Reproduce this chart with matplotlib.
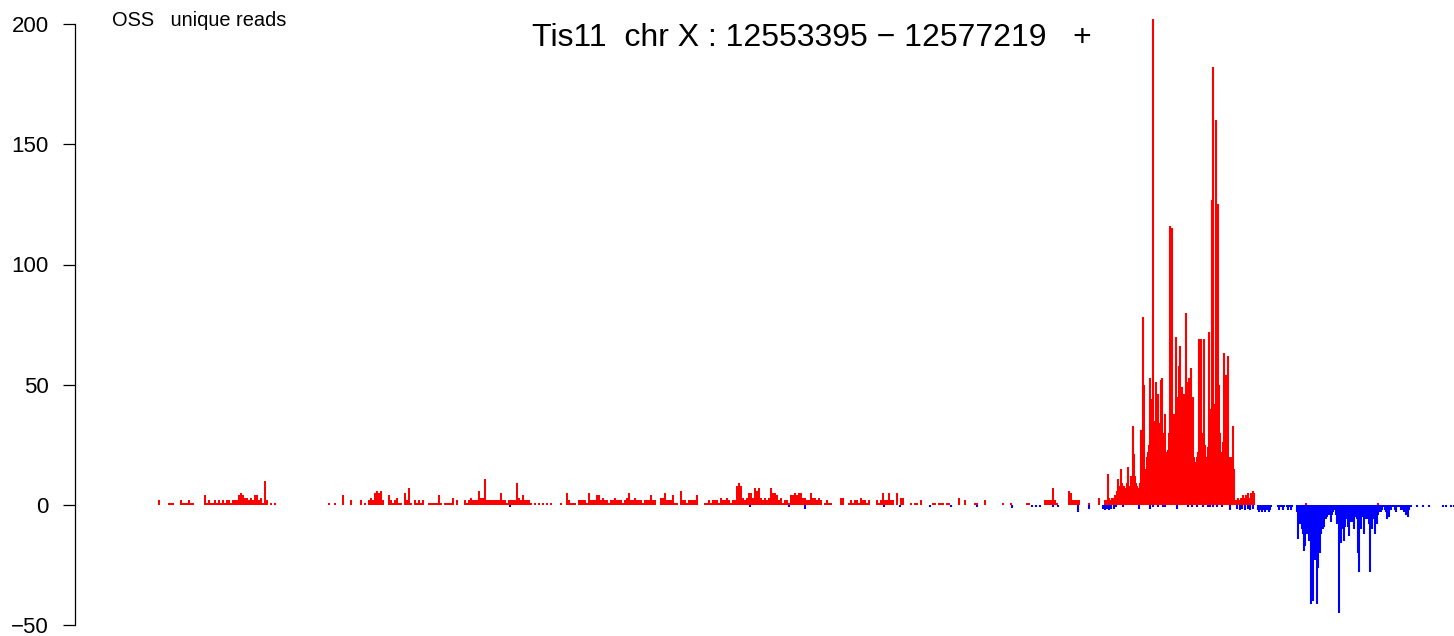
import numpy as np
import matplotlib
matplotlib.use("Agg")
import matplotlib.pyplot as plt

plt.rcParams['font.family'] = ['Liberation Sans', 'DejaVu Sans']

# ---------------- data (reads per genomic bin) ----------------
title_text = "Tis11  chr X : 12553395 \u2212 12577219   +"
track_label = "OSS   unique reads"
y_ticks = [-50, 0, 50, 100, 150, 200]

x_min, x_max = 12552442, 12578174

# plus strand, coarse bins (37.32 bp) over the low-coverage part
low_start, low_step = 12554009, 37.32
plus_low = [
    2,0,0,0,0,1,1,1,0,0, 0,2,1,1,1,2,1,1,0,0, 0,0,0,4,1,2,1,1,2,1, 2,1,2,1,2,2,1,2,2,2,
    4,5,4,3,3,2,3,2,4,4, 2,3,1,10,2,0,1,0,1,0, 0,0,0,0,0,0,0,0,0,0, 0,0,0,0,0,0,0,0,0,0,
    0,0,0,0,0,1,0,0,1,0, 0,0,4,0,0,0,2,0,0,0, 0,2,0,1,0,2,3,2,5,6, 5,6,2,0,0,4,2,1,2,3,
    1,1,0,5,2,7,1,0,2,1, 2,1,2,0,0,1,1,1,1,1, 4,1,0,1,1,1,1,3,0,2, 0,0,0,2,1,2,3,2,2,2,
    6,3,3,11,2,2,2,2,2,2, 2,5,2,2,1,2,2,2,2,9, 3,2,4,2,2,2,1,0,1,0, 1,0,1,0,1,0,1,0,0,0,
    0,1,0,0,5,2,1,1,1,0, 2,2,2,2,1,5,2,2,2,4, 4,2,3,2,2,1,2,2,3,2, 2,2,1,2,3,5,2,2,3,2,
    2,2,1,2,2,2,4,2,2,0, 0,3,3,5,2,2,2,4,1,1, 0,6,2,2,1,2,2,2,2,4, 0,0,0,1,1,2,1,2,2,2,
    1,3,2,2,3,2,1,2,2,8, 9,8,3,2,3,5,5,3,7,6, 7,3,2,3,2,3,7,5,5,4, 2,3,1,2,2,1,4,4,5,4,
    5,5,3,3,2,2,5,3,3,2, 3,2,0,1,2,1,1,0,0,0, 0,3,3,0,0,1,2,1,2,2, 1,3,2,2,1,2,0,0,0,2,
    1,2,5,2,2,5,2,2,0,5, 0,3,3,0,0,0,1,0,1,1, 0,2,0,0,0,0,0,1,1,0, 1,1,1,0,1,1,0,0,0,0,
    3,0,0,2,0,0,0,0,1,1, 0,0,0,2,0,0,0,0,0,0, 0,0,1,0,0,0,1,0,0,0, 0,0,0,0,1,1,0,0,0,0,
    0,0,0,2,2,2,2,7,2,1, 0,0,0,0,0,6,5,2,2,2, 2,0,0,0,0,1,0,0,0,0, 3,0,0,2,
]

# plus strand, fine bins (18.66 bp) over the 3' peak
peak_start, peak_step = 12571690, 18.66
plus_peak = [
    2,13,3,2,2,3,3,3,4,4,
    6,11,8,6,15,9,8,8,6,7,
    9,16,8,6,12,10,33,21,12,9,
    8,7,6,9,31,20,78,50,15,10,
    20,22,25,53,30,44,202,35,28,51,
    40,46,34,28,52,53,25,30,38,22,
    18,23,30,116,60,115,37,38,30,70,
    40,45,58,66,35,49,45,46,30,80,
    40,51,53,35,57,30,45,20,16,18,
    20,22,69,45,69,30,23,69,25,20,
    20,24,72,40,37,127,182,42,30,160,
    60,125,50,30,22,20,26,63,40,54,
    30,62,20,18,20,16,33,15,0,2,
    0,3,0,2,3,0,4,0,3,4,
    0,5,3,0,5,4,6,5,0,0,
]

# isolated plus reads downstream
plus_dot_pos = [12575412, 12576756]
plus_dot_val = [1, 1]

# minus strand, isolated reads
minus_dot_pos = [12560559, 12565038, 12565765, 12566064, 12567538, 12567837, 12568396,
                 12568788, 12569273, 12569926, 12570300, 12570374, 12570449, 12570691,
                 12570785, 12571158, 12571363, 12571624, 12571662, 12571699, 12571736,
                 12571774, 12571830, 12571867, 12571998, 12572296, 12572502, 12572557,
                 12572651, 12572744, 12572781, 12573005, 12573211, 12573285, 12573379,
                 12573490, 12573584, 12573621, 12573677, 12573752, 12573845, 12573994,
                 12574125, 12574181, 12574218, 12574274, 12574330, 12574367, 12574424]
minus_dot_val = [-1, -1, -1, -1.5, -1, -1, -1, -1, -1, -1.2, -1, -1, -1, -1,
                 -1, -3, -1.5, -1.5, -2, -1.5, -2, -1.5, -1.5, -1, -1, -1.5, -1.5, -1,
                 -1, -1, -1, -1.5, -1, -1, -1, -1, -1, -1, -1, -1, -1, -2,
                 -1.5, -2, -1.5, -2, -1.5, -2, -1.5]

# minus strand, fine bins over the downstream cluster
tail_start, tail_step = 12574489, 18.66
minus_tail = [
    0,-2,-3,-1,-2,-3,0,-2,-3,0,
    -2,-1,-3,-2,-1,0,0,0,0,0,
    0,-1,-2,-1,-1,0,-2,-1,0,0,
    -1,-2,-1,-1,-2,-1,0,0,0,0,
    -3,-14,-6,-8,-7,-10,-12,-19,-17,-10,
    -12,-9,-15,-12,-41,-20,-40,-15,-23,-18,
    -41,-26,-14,-20,-12,-8,-10,-9,-6,-6,
    -5,-4,-4,-3,-7,-4,-3,-1,-2,-4,
    -8,-6,-45,-10,-16,-8,-10,-15,-9,-6,
    -5,-9,-13,-7,-5,-7,-6,-10,-5,-4,
    -6,-20,-28,-8,-10,-5,-4,-12,-5,-6,
    -4,-6,-8,-28,-6,-10,-5,-6,-12,-5,
    -8,-4,-3,-2,-3,-2,-1,-1,-2,-3,
    -6,-3,-5,-2,-2,-1,0,-1,-2,-3,
    -1,-1,0,-1,-2,-1,-2,-3,-2,-4,
    -3,-5,-2,-1,-1,0,0,0,0,0,
    -1,0,0,0,0,0,-1,0,0,0,
    0,0,-1,0,0,0,0,0,0,0,
    0,0,0,0,0,0,-1,0,0,-1,
    0,0,0,0,-1,0,0,-1,0,
]

# ---------------- figure ----------------
W, H = 1454, 636
fig = plt.figure(figsize=(W / 100, H / 100), dpi=100)
y_lo, y_hi = -52, 204
px_per_unit = (505 - 24) / 200.0
top_px = 505 - y_hi * px_per_unit
bot_px = 505 - y_lo * px_per_unit
ax = fig.add_axes([75 / W, (H - bot_px) / H, 1 - 75 / W, (bot_px - top_px) / H])
ax.set_xlim(x_min, x_max)
ax.set_ylim(y_lo, y_hi)

RED, BLUE = '#FF0000', '#0000FF'
LW = 1.5  # points, roughly R's type="h" line width at this resolution


def hlines_from(ax, xs, vals, color):
    xs = np.asarray(xs, dtype=float)
    vals = np.asarray(vals, dtype=float)
    keep = vals != 0
    ax.vlines(xs[keep], 0, vals[keep], colors=color, linewidth=LW, capstyle='butt')


x_low = low_start + low_step * np.arange(len(plus_low))
ax.bar(x_low, plus_low, width=low_step * 0.85, color=RED, linewidth=0,
       edgecolor='none', align='center')
x_peak = peak_start + peak_step * np.arange(len(plus_peak))
hlines_from(ax, x_peak, plus_peak, RED)
hlines_from(ax, plus_dot_pos, plus_dot_val, RED)
hlines_from(ax, minus_dot_pos, minus_dot_val, BLUE)
x_tail = tail_start + tail_step * np.arange(len(minus_tail))
hlines_from(ax, x_tail, minus_tail, BLUE)

for s in ['top', 'right', 'bottom']:
    ax.spines[s].set_visible(False)
ax.spines['left'].set_bounds(-50, 200)
ax.spines['left'].set_linewidth(0.9)
ax.set_yticks(y_ticks)
ax.set_yticklabels([str(v).replace('-', '\u2212') for v in y_ticks])
ax.tick_params(axis='y', length=9, width=0.9, pad=10, labelsize=16)
ax.set_xticks([])

fig.text(112 / W, 1 - 20 / H, track_label, fontsize=14.4, ha='left', va='center')
fig.text(812 / W, 1 - 38 / H, title_text, fontsize=23, ha='center', va='center')

fig.savefig('out.png', dpi=100)
